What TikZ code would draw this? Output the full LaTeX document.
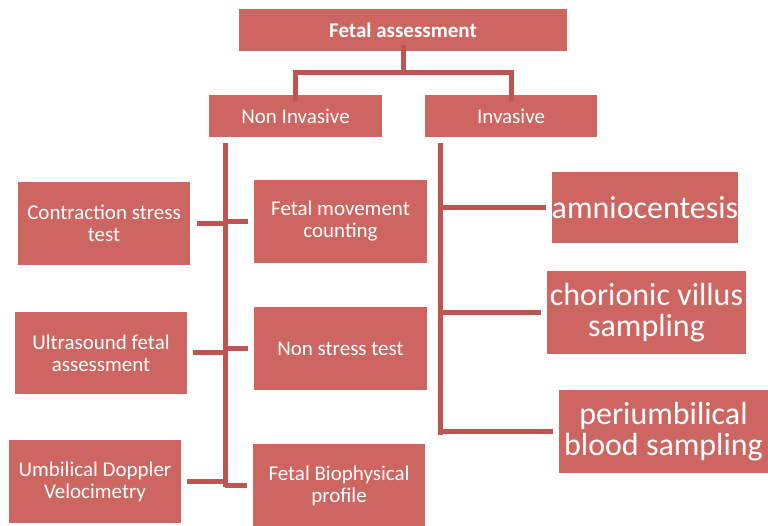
\documentclass[tikz,border=0pt]{standalone}
\usepackage{fontspec}
\setmainfont{Carlito}
\definecolor{boxfill}{RGB}{205,102,96}
\definecolor{linec}{RGB}{192,84,80}
\begin{document}
\begin{tikzpicture}[x=1pt,y=-1pt,
  box/.style={fill=boxfill, draw=none, text=white, align=center, inner sep=0pt, font=\fontsize{21}{22}\selectfont},
  bigbox/.style={box, font=\fontsize{32}{31}\selectfont},
  conn/.style={draw=linec, line width=5pt}]
\useasboundingbox (0,0) rectangle (768,526);
% helper: node at centre with size
\newcommand{\bx}[7]{\node[#1, minimum width=#4-#3, minimum height=#6-#5] (#2) at ({(#3+#4)/2},{(#5+#6)/2}) {#7};}
\bx{box, font=\bfseries\fontsize{21}{22}\selectfont}{fa}{239}{567}{9}{51}{Fetal assessment}
\bx{box}{ni}{209}{382}{95}{137}{Non Invasive}
\bx{box}{inv}{425}{597}{95}{137}{Invasive}
\bx{box}{cst}{18}{190}{182}{265}{Contraction stress\\test}
\bx{box}{ufa}{15}{187}{312}{394}{Ultrasound fetal\\assessment}
\bx{box}{udv}{9}{181}{440}{523}{Umbilical Doppler\\Velocimetry}
\bx{box}{fmc}{254}{427}{180}{263}{Fetal movement\\counting}
\bx{box}{nst}{254}{427}{307}{390}{Non stress test}
\bx{box}{fbp}{253}{425}{444}{527}{Fetal Biophysical\\profile}
\bx{bigbox}{amn}{552}{738}{172}{243}{amniocentesis}
\bx{bigbox}{cvs}{547}{746}{271}{354}{chorionic villus\\sampling}
\bx{bigbox}{pbs}{559}{768}{390}{473}{periumbilical\\blood sampling}
% bracket
\coordinate (bar) at (0,73);
\draw[conn] ([yshift=6pt]fa.south) -- (fa.south |- bar);
\draw[conn] ([yshift=-6pt]ni.north) -- (ni.north |- bar) -- (inv.north |- bar) -- ([yshift=-6pt]inv.north);
% left trunk
\coordinate (tl) at (225,143);
\coordinate (tlb) at (225,487);
\draw[conn] (tl) -- (tlb);
\draw[conn] ([xshift=7pt]cst.east) -- (cst.east -| tl);
\draw[conn] ([xshift=-6pt]fmc.west) -- (fmc.west -| tl);
\draw[conn] ([xshift=6pt]ufa.east) -- (ufa.east -| tl);
\draw[conn] ([xshift=-6pt]nst.west) -- (nst.west -| tl);
\draw[conn] ([xshift=6pt]udv.east) -- (udv.east -| tl);
\draw[conn] ([xshift=-6pt]fbp.west) -- (fbp.west -| tl);
% right trunk
\coordinate (tr) at (440,143);
\coordinate (trb) at (440,434.5);
\draw[conn] (tr) -- (trb);
\draw[conn] ([xshift=-6pt]amn.west) -- (amn.west -| tr);
\draw[conn] ([xshift=-6pt]cvs.west) -- (cvs.west -| tr);
\draw[conn] ([xshift=-6pt]pbs.west) -- (pbs.west -| tr);
\end{tikzpicture}
\end{document}
